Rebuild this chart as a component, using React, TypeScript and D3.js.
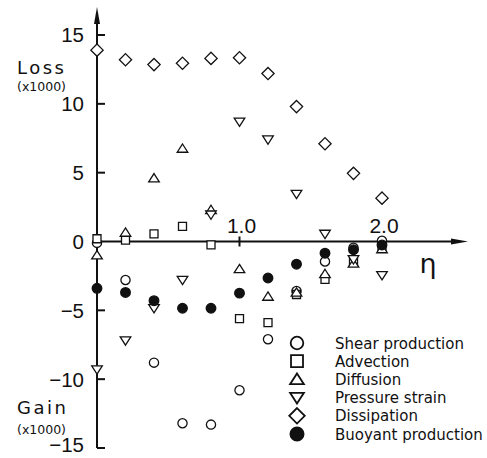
import { useRef, useEffect } from 'react';
import * as d3 from 'd3';

const width = 487;
const height = 458;

const eta = [0, 0.2, 0.4, 0.6, 0.8, 1.0, 1.2, 1.4, 1.6, 1.8, 2.0];

const shearProduction = [-0.1, -2.8, -8.8, -13.2, -13.3, -10.8, -7.1, -3.6, -1.45, -0.45, 0.05];
const advection = [0.2, 0.1, 0.55, 1.1, -0.25, -5.6, -5.9, -3.85, -2.75, -1.5, -0.4];
const diffusion = [-1.0, 0.65, 4.6, 6.75, 2.3, -2.0, -4.0, -3.7, -2.35, -1.6, -0.55];
const pressureStrain = [-9.3, -7.2, -4.85, -2.8, 1.95, 8.7, 7.4, 3.45, 0.55, -1.3, -2.45];
const dissipation = [13.9, 13.2, 12.85, 12.95, 13.3, 13.35, 12.2, 9.8, 7.1, 4.95, 3.15];
const buoyantProduction = [-3.4, -3.7, -4.3, -4.85, -4.85, -3.75, -2.65, -1.65, -0.85, -0.6, -0.25];

const seriesNames = [
  'Shear production',
  'Advection',
  'Diffusion',
  'Pressure strain',
  'Dissipation',
  'Buoyant production',
];
const seriesShapes = ['circle', 'square', 'up', 'down', 'diamond', 'dot'];
const seriesValues = [
  shearProduction,
  advection,
  diffusion,
  pressureStrain,
  dissipation,
  buoyantProduction,
];

const yTicks = [15, 10, 5, 0, -5, -10, -15];
const xTicks = [1.0, 2.0];

const font = '"DejaVu Sans", sans-serif';
const numFont = '"Liberation Sans", Arial, sans-serif';

// marker outline centred on 0,0; s = half size
const markerPath = (shape, s) => {
  const p = d3.path();
  if (shape === 'circle' || shape === 'dot') {
    p.arc(0, 0, s, 0, Math.PI * 2);
  } else if (shape === 'square') {
    p.rect(-s, -s, s * 2, s * 2);
  } else if (shape === 'up') {
    p.moveTo(0, -s);
    p.lineTo(s * 1.15, s * 0.8);
    p.lineTo(-s * 1.15, s * 0.8);
    p.closePath();
  } else if (shape === 'down') {
    p.moveTo(0, s);
    p.lineTo(s * 1.15, -s * 0.8);
    p.lineTo(-s * 1.15, -s * 0.8);
    p.closePath();
  } else if (shape === 'diamond') {
    p.moveTo(0, -s * 1.25);
    p.lineTo(s * 1.25, 0);
    p.lineTo(0, s * 1.25);
    p.lineTo(-s * 1.25, 0);
    p.closePath();
  }
  return p.toString();
};

const dataSize = { circle: 4.6, square: 4, up: 4.6, down: 4.6, diamond: 4.9, dot: 4.8 };
const legendSize = { circle: 6.3, square: 6, up: 6, down: 6, diamond: 6.2, dot: 6.6 };

const Chart = () => {
  const ref = useRef(null);

  useEffect(() => {
    const svg = d3.select(ref.current);
    svg.selectAll('*').remove();

    const x = d3.scaleLinear().domain([0, 2]).range([97, 382]);
    const y = d3.scaleLinear().domain([-15, 15]).range([448, 35]);

    const axisColor = '#111';

    // y axis with arrow
    svg
      .append('line')
      .attr('x1', x(0))
      .attr('x2', x(0))
      .attr('y1', 20)
      .attr('y2', y(-15))
      .attr('stroke', axisColor)
      .attr('stroke-width', 2);
    svg
      .append('path')
      .attr('d', `M${x(0)},7 L${x(0) + 3},24 L${x(0) - 3},24 Z`)
      .attr('fill', axisColor);

    // x axis with arrow
    svg
      .append('line')
      .attr('x1', x(0))
      .attr('x2', 455)
      .attr('y1', y(0))
      .attr('y2', y(0))
      .attr('stroke', axisColor)
      .attr('stroke-width', 2);
    svg
      .append('path')
      .attr('d', `M468,${y(0)} L451,${y(0) - 3} L451,${y(0) + 3} Z`)
      .attr('fill', axisColor);

    // y ticks
    const yt = svg.append('g');
    yt.selectAll('line')
      .data(yTicks.filter((d) => d !== 0))
      .enter()
      .append('line')
      .attr('x1', x(0))
      .attr('x2', x(0) + 8)
      .attr('y1', (d) => y(d))
      .attr('y2', (d) => y(d))
      .attr('stroke', axisColor)
      .attr('stroke-width', 2);
    yt.selectAll('text')
      .data(yTicks)
      .enter()
      .append('text')
      .text((d) => (d < 0 ? `\u2212${-d}` : d))
      .attr('x', 84)
      .attr('y', (d) => Math.min(y(d), 445))
      .attr('dy', '0.36em')
      .attr('text-anchor', 'end')
      .attr('font-family', numFont)
      .attr('font-size', 20.5)
      .attr('fill', axisColor);

    // x ticks
    const xt = svg.append('g');
    xt.selectAll('line')
      .data(xTicks)
      .enter()
      .append('line')
      .attr('x1', (d) => x(d))
      .attr('x2', (d) => x(d))
      .attr('y1', y(0) - 5)
      .attr('y2', y(0) + 5)
      .attr('stroke', axisColor)
      .attr('stroke-width', 2);
    xt.selectAll('text')
      .data(xTicks)
      .enter()
      .append('text')
      .text((d) => d.toFixed(1))
      .attr('x', (d) => x(d) + 2)
      .attr('y', y(0) - 9)
      .attr('text-anchor', 'middle')
      .attr('font-family', numFont)
      .attr('font-size', 21)
      .attr('fill', axisColor);

    // axis titles
    const title = (txt, ty, size, spacing) =>
      svg
        .append('text')
        .text(txt)
        .attr('x', 17)
        .attr('y', ty)
        .attr('font-family', font)
        .attr('font-size', size)
        .attr('letter-spacing', spacing)
        .attr('fill', axisColor);
    title('Loss', 74, 18, 2.5);
    title('(x1000)', 91, 12.5, 0);
    title('Gain', 414, 18, 2.5);
    title('(x1000)', 434, 12.5, 0);

    svg
      .append('text')
      .text('\u03b7')
      .attr('x', 428)
      .attr('y', 273)
      .attr('text-anchor', 'middle')
      .attr('font-family', font)
      .attr('font-size', 27)
      .attr('fill', axisColor);

    // data markers
    seriesValues.forEach((vals, i) => {
      const shape = seriesShapes[i];
      svg
        .append('g')
        .selectAll('path')
        .data(vals)
        .enter()
        .append('path')
        .attr('d', markerPath(shape, dataSize[shape]))
        .attr('transform', (d, j) => `translate(${x(eta[j])},${y(d)})`)
        .attr('fill', shape === 'dot' ? axisColor : 'white')
        .attr('stroke', axisColor)
        .attr('stroke-width', 1.3);
    });

    // legend
    const legend = svg.append('g');
    const ly = d3.scaleLinear().domain([0, 5]).range([343, 434]);
    seriesNames.forEach((name, i) => {
      const shape = seriesShapes[i];
      legend
        .append('path')
        .attr('d', markerPath(shape, legendSize[shape]))
        .attr('transform', `translate(297,${ly(i)})`)
        .attr('fill', shape === 'dot' ? axisColor : 'white')
        .attr('stroke', axisColor)
        .attr('stroke-width', 1.8);
      legend
        .append('text')
        .text(name)
        .attr('x', 335)
        .attr('y', ly(i))
        .attr('dy', '0.37em')
        .attr('font-family', font)
        .attr('font-size', 15)
        .attr('fill', axisColor);
    });
  }, []);

  return <svg ref={ref} width={width} height={height}></svg>;
};

export default function App() {
  return (
    <div style={{ position: 'absolute', left: 0, top: 0, width, height, background: 'white' }}>
      <Chart />
    </div>
  );
}
